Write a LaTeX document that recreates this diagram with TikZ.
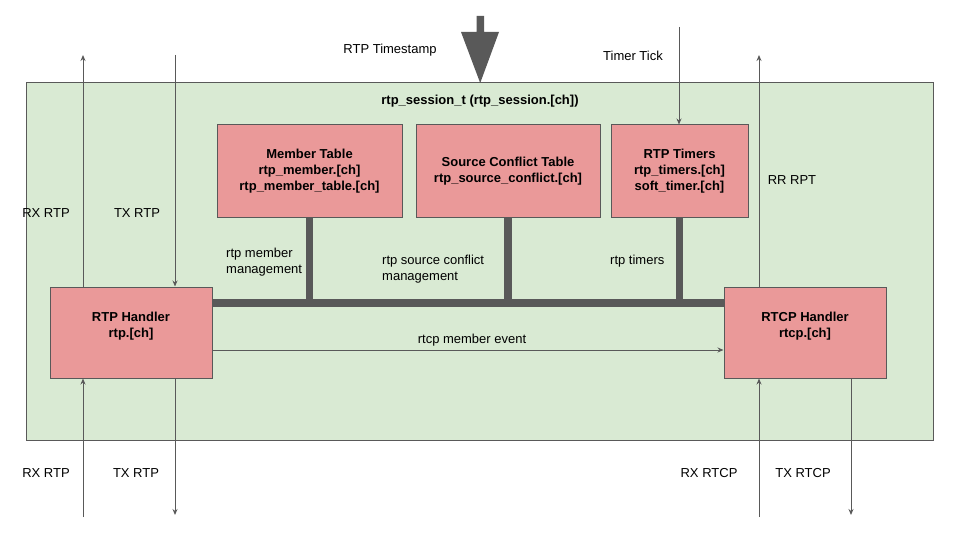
\documentclass[tikz,border=0pt]{standalone}
\usepackage{fontspec}
\setmainfont{Liberation Sans}
\usetikzlibrary{arrows.meta}
\definecolor{lineC}{HTML}{595959}
\definecolor{greenC}{HTML}{D9EAD3}
\definecolor{redC}{HTML}{EA9999}
\begin{document}
\begin{tikzpicture}[x=1pt,y=-1pt,
  every node/.style={font=\fontsize{13}{16}\selectfont, inner sep=0pt},
  modbox/.style={draw=lineC, fill=redC, line width=1pt, align=center, font=\fontsize{13}{16}\selectfont\bfseries},
  arr/.style={draw=lineC, line width=1pt, -{Stealth[length=6pt,width=5pt]}},
  bus/.style={draw=lineC, line width=7.5pt},
  lbl/.style={text=black, align=left}]
\useasboundingbox (0,0) rectangle (960,540);
% session container
\node[draw=lineC, fill=greenC, line width=1pt, minimum width=907pt, minimum height=357pt] (session) at (479.5,261.5) {};
\node[font=\fontsize{13}{16}\selectfont\bfseries] (title) at (480,101) {rtp\_session\_t (rtp\_session.[ch])};
% modules
\node[modbox, minimum width=185pt, minimum height=92pt] (member) at (309.5,171) {Member Table\\rtp\_member.[ch]\\rtp\_member\_table.[ch]};
\node[modbox, minimum width=184pt, minimum height=92pt] (source) at (508,171) {Source Conflict Table\\rtp\_source\_conflict.[ch]};
\node[modbox, minimum width=137pt, minimum height=92pt] (timers) at (679.5,171) {RTP Timers\\rtp\_timers.[ch]\\soft\_timer.[ch]};
\node[modbox, minimum width=162pt, minimum height=91pt] (rtp) at (131,332.5) {RTP Handler\\rtp.[ch]\\\mbox{}};
\node[modbox, minimum width=162pt, minimum height=91pt] (rtcp) at (805,332.5) {RTCP Handler\\rtcp.[ch]\\\mbox{}};
% bus
\coordinate (busy) at (0,303);
\draw[bus] (rtp.east |- busy) -- (rtcp.west |- busy);
\draw[bus] (member.south) -- (member.south |- busy);
\draw[bus] (source.south) -- (source.south |- busy);
\draw[bus] (timers.south) -- (timers.south |- busy);
\node[lbl, anchor=west] (lmember) at (226,262) {rtp member\\management};
\node[lbl, anchor=west] (lsource) at (382,269) {rtp source conflict\\management};
\node[lbl, anchor=west] (ltimers) at (610,261) {rtp timers};
% rtcp member event
\coordinate (evy) at (0,350);
\draw[arr] (rtp.east |- evy) -- (rtcp.west |- evy);
\node (levent) at (472,340) {rtcp member event};
% big timestamp arrow
\fill[lineC] (476.5,16) -- (484,16) -- (484,32) -- (499,32) -- (480.2,83) -- (461,32) -- (476.5,32) -- cycle;
\node (lts) at (390,50) {RTP Timestamp};
% RTP handler connectors
\coordinate (rxtop) at (83,55);
\coordinate (txtop) at (175,55);
\coordinate (rxbot) at (83,517);
\coordinate (txbot) at (175,515);
\draw[arr] (rxtop |- rtp.north) -- (rxtop);
\draw[arr] (txtop) -- (txtop |- rtp.north);
\draw[arr] (rxbot) -- (rxbot |- rtp.south);
\draw[arr] (txbot |- rtp.south) -- (txbot);
\node (lrx1) at (46,213) {RX RTP};
\node (ltx1) at (137,213) {TX RTP};
\node (lrx2) at (46,473) {RX RTP};
\node (ltx2) at (136,473) {TX RTP};
% timer tick
\coordinate (tick) at (679,27);
\draw[arr] (tick) -- (tick |- timers.north);
\node (ltick) at (633,56) {Timer Tick};
% RTCP connectors
\coordinate (rrtop) at (759,55);
\coordinate (rxcbot) at (759,517);
\coordinate (txcbot) at (851,515);
\draw[arr] (rrtop |- rtcp.north) -- (rrtop);
\draw[arr] (rxcbot) -- (rxcbot |- rtcp.south);
\draw[arr] (txcbot |- rtcp.south) -- (txcbot);
\node (lrr) at (792,180) {RR RPT};
\node (lrxc) at (709,473) {RX RTCP};
\node (ltxc) at (803,473) {TX RTCP};
\end{tikzpicture}
\end{document}
